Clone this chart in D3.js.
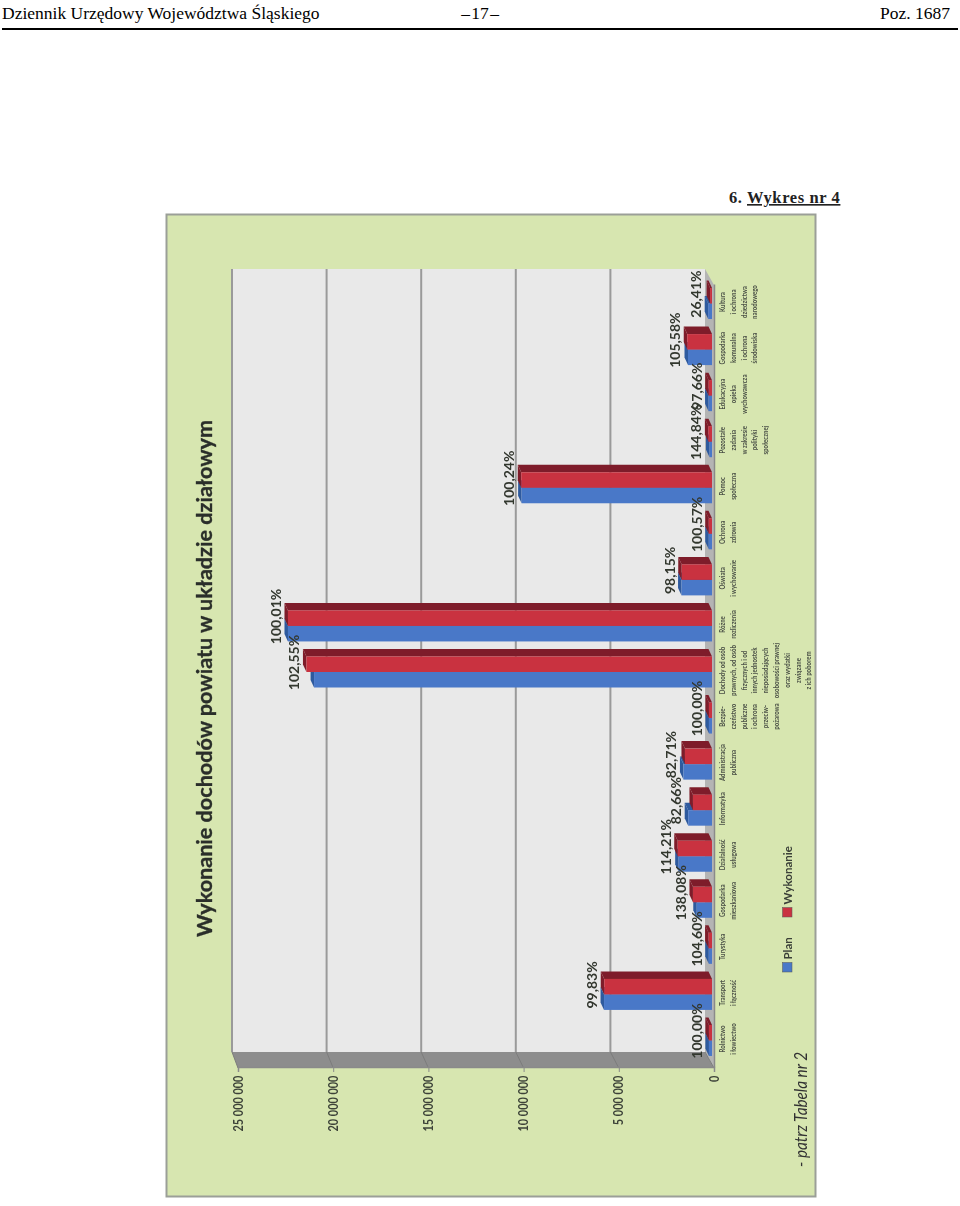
<!DOCTYPE html>
<html lang="pl">
<head>
<meta charset="utf-8">
<title>Wykres nr 4</title>
<script src="https://cdnjs.cloudflare.com/ajax/libs/d3/7.8.5/d3.min.js"></script>
<style>
html, body { margin: 0; padding: 0; background: #fff; }
svg { display: block; }
</style>
</head>
<body>
<div id="viz"></div>
<script>
// dane
const categories = [
  ["Rolnictwo", "i łowiectwo"],
  ["Transport", "i łączność"],
  ["Turystyka"],
  ["Gospodarka", "mieszkaniowa"],
  ["Działalność", "usługowa"],
  ["Informatyka"],
  ["Administracja", "publiczna"],
  ["Bezpie-", "czeństwo", "publiczne", "i ochrona", "przeciw-", "pożarowa"],
  ["Dochody od osób", "prawnych, od osób", "fizycznych i od", "innych jednostek", "nieposiadających", "osobowości prawnej", "oraz wydatki", "związane", "z ich poborem"],
  ["Różne", "rozliczenia"],
  ["Oświata", "i wychowanie"],
  ["Ochrona", "zdrowia"],
  ["Pomoc", "społeczna"],
  ["Pozostałe", "zadania", "w zakresie", "polityki", "społecznej"],
  ["Edukacyjna", "opieka", "wychowawcza"],
  ["Gospodarka", "komunalna", "i ochrona", "środowiska"],
  ["Kultura", "i ochrona", "dziedzictwa", "narodowego"]
];
const plan = [160000, 5670000, 170000, 800000, 1750000, 1250000, 1500000, 160000, 20900000, 22270000, 1600000, 170000, 10000000, 130000, 180000, 1260000, 200000];
const wykonanie = [160000, 5660000, 180000, 1000000, 1800000, 1000000, 1420000, 160000, 21300000, 22270000, 1590000, 170000, 10020000, 190000, 175000, 1300000, 100000];
const percents = ["100,00%", "99,83%", "104,60%", "138,08%", "114,21%", "82,66%", "82,71%", "100,00%", "102,55%", "100,01%", "98,15%", "100,57%", "100,24%", "144,84%", "97,66%", "105,58%", "26,41%"];
const tickValues = [0, 5000000, 10000000, 15000000, 20000000, 25000000];
const tickLabels = ["0", "5 000 000", "10 000 000", "15 000 000", "20 000 000", "25 000 000"];
const seriesNames = ["Plan", "Wykonanie"];

const sans = "Lato, 'Open Sans', sans-serif";
const serif = "'Liberation Serif', serif";

const svg = d3.select("#viz").append("svg")
  .attr("width", 960).attr("height", 1206);

const defs = svg.append("defs");
defs.append("filter").attr("id", "scan")
  .attr("x", "-5%").attr("y", "-5%").attr("width", "110%").attr("height", "110%")
  .append("feGaussianBlur").attr("stdDeviation", 0.4);

// naglowek strony
const head = svg.append("g").style("font-family", serif).style("font-size", "17.5px").attr("fill", "#000");
head.append("text").attr("x", 2).attr("y", 19).text("Dziennik Urzędowy Województwa Śląskiego");
head.append("text").attr("x", 480).attr("y", 19).attr("text-anchor", "middle").style("word-spacing", "-3px").text("– 17 –");
head.append("text").attr("x", 950).attr("y", 19).attr("text-anchor", "end").text("Poz. 1687");
svg.append("rect").attr("x", 2).attr("y", 28).attr("width", 956).attr("height", 2).attr("fill", "#000");

const heading = svg.append("text").attr("x", 729).attr("y", 203)
  .style("font-family", serif).style("font-size", "16.5px").style("font-weight", "bold")
  .style("letter-spacing", "0.6px").attr("fill", "#222");
heading.append("tspan").text("6. ");
heading.append("tspan").style("text-decoration", "underline").text("Wykres nr 4");

const page = svg.append("g").attr("filter", "url(#scan)");

page.append("rect").attr("x", 166.5).attr("y", 214.5).attr("width", 649).attr("height", 982)
  .attr("fill", "#d7e6b0").attr("stroke", "#9b9f98").attr("stroke-width", 2);

page.append("text")
  .attr("transform", "translate(212,937) rotate(-90)")
  .style("font-family", sans).style("font-size", "21px").style("font-weight", "700")
  .attr("fill", "#2b2f2a").attr("stroke", "#2b2f2a").attr("stroke-width", .35)
  .attr("textLength", 517).attr("lengthAdjust", "spacingAndGlyphs")
  .text("Wykonanie dochodów powiatu w układzie działowym");

// wykres jest obrocony o 90 stopni, os wartosci biegnie w lewo na stronie
const g = page.append("g").attr("transform", "translate(714,1068) rotate(-90)");

const x = d3.scaleBand().domain(d3.range(categories.length)).range([0, 783]);
const y = d3.scaleLinear().domain([0, 25000000]).range([0, -476]);
const yBack = d3.scaleLinear().domain([0, 25000000]).range([-9, -482]);
const wallX0 = 16, wallX1 = 799;
const frontOff = 4.5, barW = 15.5, barBase = -2, depthX = 7.5, depthY = -3.5;

const poly = pts => pts.map(p => p.join(",")).join(" ");

// sciany i podloga
g.append("rect").attr("x", wallX0).attr("y", yBack(25000000))
  .attr("width", wallX1 - wallX0).attr("height", yBack(0) - yBack(25000000)).attr("fill", "#e9e9e9");
g.append("polygon").attr("fill", "#8d8d8d")
  .attr("points", poly([[0, y(0)], [wallX0, yBack(0)], [wallX0, yBack(25000000)], [0, y(25000000)]]));
g.append("polygon").attr("fill", "#b4b4b4")
  .attr("points", poly([[0, y(0)], [wallX0, yBack(0)], [wallX1, yBack(0)], [x.range()[1], y(0)]]));

g.selectAll(".grid").data(tickValues.slice(1)).join("line").attr("class", "grid")
  .attr("x1", wallX0).attr("x2", wallX1)
  .attr("y1", d => yBack(d)).attr("y2", d => yBack(d))
  .attr("stroke", "#9a9a9a").attr("stroke-width", 2);
g.selectAll(".grid-side").data(tickValues).join("line").attr("class", "grid-side")
  .attr("x1", 0).attr("x2", wallX0)
  .attr("y1", d => y(d)).attr("y2", d => yBack(d))
  .attr("stroke", "#7c7c7c").attr("stroke-width", 1);

// os wartosci
const yAxis = g.append("g")
  .call(d3.axisLeft(y).tickValues(tickValues).tickSize(4).tickPadding(5)
    .tickFormat((d, i) => tickLabels[i]));
yAxis.select(".domain").attr("stroke", "#8a8a8a").attr("stroke-width", 1.5);
yAxis.selectAll("line").attr("stroke", "#8a8a8a");
yAxis.selectAll("text")
  .attr("transform", "scale(.84,1)")
  .style("font-family", sans).style("font-size", "13px").style("font-weight", "700").attr("fill", "#3c4238");

// os kategorii
const xAxis = g.append("g")
  .call(d3.axisBottom(x).tickSize(0).tickPadding(0).tickFormat(""));
xAxis.select(".domain").attr("stroke", "#8a8a8a").attr("stroke-width", 1.5);
xAxis.selectAll(".tick text").each(function(i) {
  const t = d3.select(this)
    .attr("transform", "translate(6,0) scale(.8,1)")
    .style("font-family", sans).style("font-size", "7.6px").style("font-weight", "700")
    .attr("fill", "#4a5046").attr("y", 0).attr("dy", null);
  t.selectAll("tspan").data(categories[i]).join("tspan")
    .attr("x", 0).attr("y", (d, k) => 11 + k * 10.8).text(d => d);
});

// slupki
function drawBars(values, index, front, side) {
  const left = i => x(i) + x.bandwidth() / 2 + frontOff - barW + index * barW;
  const bars = g.append("g");
  // gorna sciana slupka
  bars.selectAll(".top").data(values).join("polygon").attr("fill", side)
    .attr("points", (d, i) => poly([
      [left(i), y(d) + barBase], [left(i) + barW, y(d) + barBase],
      [left(i) + barW + depthX, y(d) + barBase + depthY], [left(i) + depthX, y(d) + barBase + depthY]
    ]));
  // boczna sciana
  bars.selectAll(".side").data(values).join("polygon").attr("fill", side)
    .attr("points", (d, i) => poly([
      [left(i) + barW, barBase], [left(i) + barW + depthX, barBase + depthY],
      [left(i) + barW + depthX, y(d) + barBase + depthY], [left(i) + barW, y(d) + barBase]
    ]));
  bars.selectAll(".front").data(values).join("rect").attr("fill", front)
    .attr("x", (d, i) => left(i)).attr("width", barW)
    .attr("y", d => y(d) + barBase).attr("height", d => -y(d));
}
drawBars(plan, 0, "#4a78c8", "#2f5a9e");
drawBars(wykonanie, 1, "#c93240", "#7e1f2a");

// etykiety procentowe
g.selectAll(".pct").data(percents).join("text").attr("class", "pct")
  .attr("x", (d, i) => x(i) + x.bandwidth() / 2 + 14)
  .attr("y", (d, i) => y(Math.max(plan[i], wykonanie[i])) - 9)
  .attr("text-anchor", "middle")
  .style("font-family", sans).style("font-size", "14px").style("font-weight", "700")
  .attr("fill", "#33372f")
  .text(d => d);

// legenda
const legendColors = ["#4a78c8", "#c93240"];
const legendY = [972, 917];
const legend = page.selectAll(".legend").data(seriesNames).join("g").attr("class", "legend")
  .attr("transform", (d, i) => `translate(787,${legendY[i]}) rotate(-90)`);
legend.append("rect").attr("x", 0).attr("y", -4.5).attr("width", 9.5).attr("height", 9.5)
  .attr("fill", (d, i) => legendColors[i]).attr("stroke", "#555").attr("stroke-width", .5);
legend.append("text").attr("x", 12.5).attr("y", 4.5)
  .style("font-family", sans).style("font-size", "11.5px").style("font-weight", "700")
  .attr("fill", "#3a3f37").text(d => d);

page.append("text")
  .attr("transform", "translate(807,1167) rotate(-90)")
  .style("font-family", sans).style("font-size", "17px").style("font-style", "italic")
  .attr("fill", "#333").attr("textLength", 115).attr("lengthAdjust", "spacingAndGlyphs")
  .text("- patrz Tabela nr 2");
</script>
</body>
</html>
